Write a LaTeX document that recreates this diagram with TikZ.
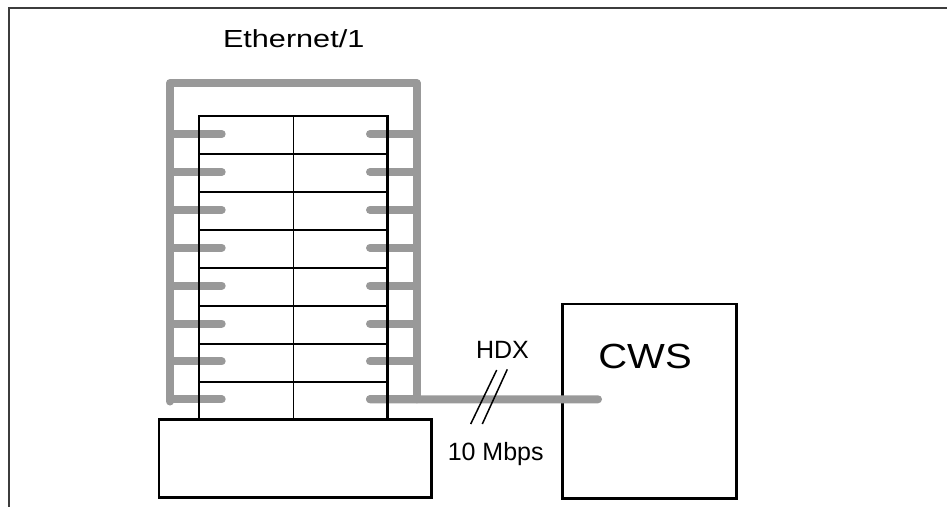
\documentclass[tikz,border=0pt]{standalone}
\usepackage{fontspec}
\setmainfont{Liberation Sans}
\definecolor{busgray}{RGB}{153,153,153}
\definecolor{framegray}{RGB}{60,60,60}
\begin{document}
\begin{tikzpicture}[x=1pt,y=-1pt,
  bus/.style={draw=busgray, line width=8pt, line cap=round, line join=round},
  boxline/.style={draw=black, line width=2.7pt, inner sep=0pt, outer sep=0pt, fill=none},
  gridline/.style={draw=black, line width=1.6pt},
  slash/.style={draw=black, line width=1.5pt},
  lbl/.style={inner sep=0pt, outer sep=0pt, font=\fontsize{25}{30}\selectfont},
  titlelbl/.style={inner sep=0pt, outer sep=0pt, font=\fontsize{24.7}{30}\selectfont},
  biglbl/.style={inner sep=0pt, outer sep=0pt, font=\fontsize{34.9}{42}\selectfont}]
\useasboundingbox (0,0) rectangle (947,507);

% page frame
\draw[line width=1.5pt, draw=framegray] (947,8) -- (9,8) -- (9,507);

% workstation box
\node[boxline, minimum width=174.4pt, minimum height=194.3pt] (cws) at (649.5,401.15) {};
\node[biglbl, anchor=base] (cwslbl) at (645,368.3) {\scalebox{1.147}[1]{CWS}};
\coordinate (cwsport) at (598,399.3);

% base unit
\node[boxline, minimum width=272.7pt, minimum height=78pt] (base) at (295.35,458.3) {};

% Ethernet bus around the rack
\coordinate (busL) at (170,401.5);
\coordinate (busTL) at (170,83);
\coordinate (busTR) at (416.7,83);
\coordinate (busR) at (416.7,399.3);
\draw[bus] (busL) -- (busTL) -- (busTR) -- (busR);
\foreach \i in {0,...,7} {
  \pgfmathsetmacro{\yy}{134+37.9*\i}
  \coordinate (sl\i) at (170,\yy);
  \coordinate (sle\i) at (221.7,\yy);
  \coordinate (sr\i) at (416.7,\yy);
  \coordinate (sre\i) at (370,\yy);
  \draw[bus] (sl\i) -- (sle\i);
  \draw[bus] (sr\i) -- (sre\i);
}
% HDX link to the workstation
\draw[bus] (sre7) -- (cwsport);

% rack with 8 rows of 2 slots
\node[boxline, minimum width=188.7pt, minimum height=304pt] (rack) at (293.35,268) {};
\draw[gridline] (rack.north) -- (rack.south);
\foreach \i in {1,...,7} {
  \draw[gridline] ([yshift=-38*\i pt]rack.north west) -- ([yshift=-38*\i pt]rack.north east);
}

% labels
\node[titlelbl, anchor=base west] (eth) at (223,47.7) {\scalebox{1.24}[1]{Ethernet/1}};
\node[lbl, anchor=base] (hdx) at (502.5,358.3) {HDX};
\node[lbl, anchor=base] (rate) at (495.7,460) {10 Mbps};

% double slash on the link
\draw[slash] (470.7,424) -- (496.7,370);
\draw[slash] (482.3,424) -- (507.3,369.3);
\end{tikzpicture}
\end{document}
